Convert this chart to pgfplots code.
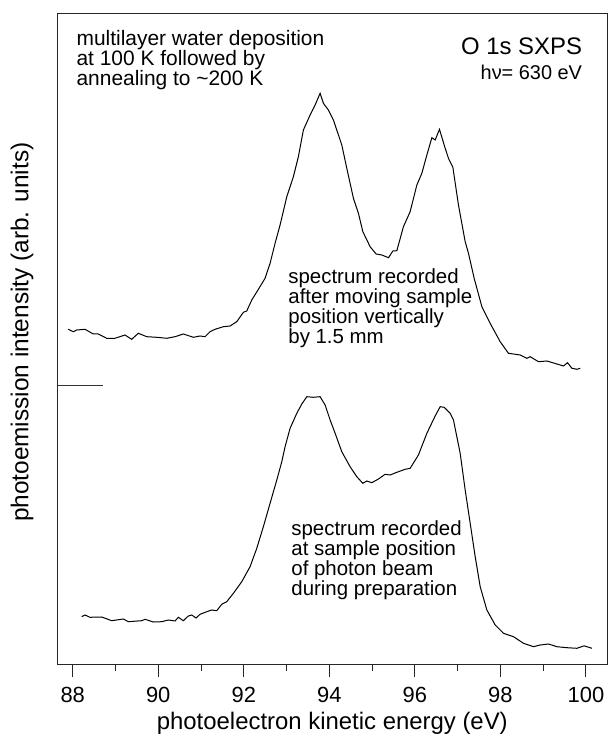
\documentclass[border=0pt]{standalone}
\usepackage{fontspec}
\setmainfont{Liberation Sans}
\usepackage{pgfplots}
\pgfplotsset{compat=1.18}
\begin{document}
\begin{tikzpicture}
\begin{axis}[
  scale only axis,
  width=550bp, height=651bp,
  xmin=87.64, xmax=100.5,
  ymin=0, ymax=651,
  ytick=\empty,
  xtick={88,90,...,100},
  minor xtick={89,91,...,99},
  xtick pos=left,
  tick align=outside,
  major tick length=13bp,
  minor tick length=7bp,
  axis line style={line width=1bp, black!85},
  every tick/.style={black!85, line width=1bp},
  /pgf/number format/assume math mode=true,
  ticklabel style={font=\fontsize{22}{22}\selectfont},
  xticklabel style={yshift=-6.5bp},
  xlabel={photoelectron kinetic energy (eV)},
  ylabel={photoemission intensity (arb. units)},
  xlabel style={font=\fontsize{24}{24}\selectfont, yshift=-2bp},
  ylabel style={font=\fontsize{24.5}{24.5}\selectfont,
    at={(axis description cs:-0.064,0.51)}, anchor=center},
  clip=false,
]
% spectrum after moving the sample
\addplot[black, line width=1bp] coordinates {
(87.897,335) (88.014,332.6) (88.094,334.3) (88.288,335) (88.482,330.3)
(88.599,330.3) (88.795,326) (88.989,326) (89.223,329.3) (89.380,325)
(89.535,331) (89.731,327.6) (89.965,327) (90.199,326) (90.393,327.6)
(90.587,330.3) (90.821,327) (90.978,328.3) (91.095,327.6) (91.212,332.6)
(91.329,335) (91.523,337.6) (91.680,338.3) (91.836,342.6) (91.991,352)
(92.070,353.3) (92.187,364.3) (92.342,375) (92.498,386) (92.615,401)
(92.732,421) (92.849,439.3) (93.006,467.6) (93.160,487.6) (93.277,507.6)
(93.394,534.3) (93.551,549.3) (93.668,559.3) (93.785,571) (93.862,561)
(93.979,554.3) (94.096,544.3) (94.292,519.3) (94.409,496) (94.564,466)
(94.681,451) (94.784,432.6) (94.954,417.6) (95.095,410.3) (95.228,409.3)
(95.383,406.6) (95.486,413.3) (95.579,413.6) (95.733,437.6) (95.890,452.6)
(96.047,479.3) (96.164,491) (96.281,509.3) (96.398,526.6) (96.475,524.3)
(96.576,535) (96.709,516) (96.786,506) (96.889,497) (97.020,459.3)
(97.177,422.6) (97.254,411) (97.387,386) (97.567,357.6) (97.761,341)
(97.995,322.6) (98.189,311) (98.463,309.3) (98.620,306) (98.697,307.6)
(98.891,302.6) (99.088,303.3) (99.322,300.3) (99.476,298.3) (99.570,301.6)
(99.673,296) (99.790,295) (99.867,296)
};
% spectrum at the preparation position
\addplot[black, line width=1bp] coordinates {
(88.211,47.6) (88.288,49.3) (88.405,47) (88.678,47.3) (88.912,43.6)
(89.184,45.3) (89.301,42.6) (89.614,43.6) (89.691,45) (89.885,42.3)
(90.082,42.6) (90.236,44.3) (90.393,43.3) (90.470,47) (90.587,43.6)
(90.704,48.3) (90.784,49.3) (90.884,46.3) (90.978,50) (91.135,52.6)
(91.251,54.3) (91.368,53.6) (91.485,60) (91.602,62.6) (91.757,71)
(91.953,82.6) (92.147,97.6) (92.304,116) (92.458,137.6) (92.615,161)
(92.772,184.3) (92.889,202.6) (92.966,217.6) (93.083,236) (93.240,251)
(93.357,260.3) (93.474,267.6) (93.628,267) (93.785,267.6) (93.902,259.3)
(94.019,244.3) (94.136,231) (94.292,212.6) (94.486,197.6) (94.643,187.6)
(94.784,181) (94.877,183.3) (94.994,181.6) (95.149,185.3) (95.305,190)
(95.422,189.3) (95.579,192) (95.773,195) (95.890,196) (96.084,209.3)
(96.281,231) (96.475,248.3) (96.592,257.6) (96.685,257) (96.826,251)
(96.903,244.3) (97.060,211) (97.177,174.3) (97.294,141) (97.411,107.6)
(97.528,77.6) (97.684,54.3) (97.879,39.3) (98.073,31) (98.307,27.6)
(98.541,21) (98.775,17.6) (98.932,19.3) (99.126,20.3) (99.322,17.6)
(99.556,16.6) (99.790,16) (99.960,18.5) (100.023,17.6) (100.143,16)
};
% offset marker on the left axis
\addplot[black!80, line width=1bp] coordinates {(87.64,278.6) (88.71,278.6)};

\node[anchor=north west, inner sep=0pt, align=left,
  font=\fontsize{21}{20}\selectfont] at (axis cs:88.087,633.9)
  {multilayer water deposition\\at 100 K followed by\\annealing to \char`~200 K};
\node[anchor=base east, inner sep=0pt, font=\fontsize{24}{24}\selectfont]
  at (axis cs:99.914,609.3) {O 1s SXPS};
\node[anchor=base east, inner sep=0pt, font=\fontsize{20}{20}\selectfont]
  at (axis cs:99.914,584.3) {hν= 630 eV};
\node[anchor=north west, inner sep=0pt, align=left,
  font=\fontsize{20.5}{20}\selectfont] at (axis cs:93.039,395.9)
  {spectrum recorded\\after moving sample\\position vertically\\by 1.5 mm};
\node[anchor=north west, inner sep=0pt, align=left,
  font=\fontsize{20.5}{20.2}\selectfont] at (axis cs:93.109,143.9)
  {spectrum recorded\\at sample position\\of photon beam\\during preparation};
\end{axis}
\pgfresetboundingbox
\path[use as bounding box] ([xshift=-57.3bp,yshift=-73.7bp]current axis.south west)
  rectangle ([xshift=2.7bp,yshift=13.3bp]current axis.north east);
\end{tikzpicture}
\end{document}
